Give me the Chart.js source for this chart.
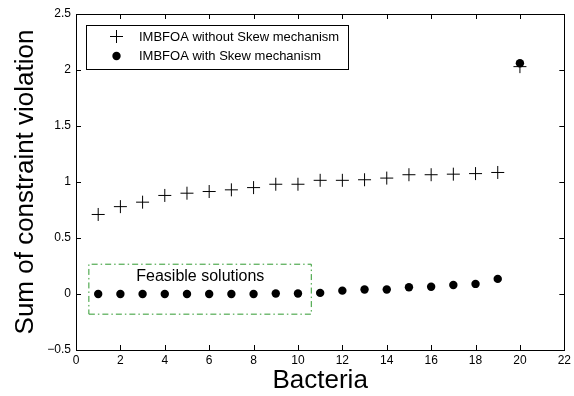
<!DOCTYPE html>
<html>
<head>
<meta charset="utf-8">
<script src="https://cdn.jsdelivr.net/npm/chart.js@4"></script>
<style>
  html, body { margin: 0; padding: 0; background: #fff; }
  #wrap { width: 574px; height: 396px; }
</style>
</head>
<body>
<div id="wrap"><canvas id="chart" width="574" height="396"></canvas></div>
<script>
// Bacteria index 1..20
const bacteria = [1, 2, 3, 4, 5, 6, 7, 8, 9, 10, 11, 12, 13, 14, 15, 16, 17, 18, 19, 20];
const withoutSkew = [0.71, 0.78, 0.82, 0.88, 0.90, 0.915, 0.93, 0.95, 0.98, 0.98,
    1.015, 1.015, 1.02, 1.035, 1.065, 1.065, 1.07, 1.075, 1.085, 2.03];
const withSkew = [0, 0, 0, 0, 0, 0, 0, 0, 0.005, 0.005,
    0.01, 0.03, 0.04, 0.04, 0.06, 0.065, 0.08, 0.09, 0.135, 2.06];

const xTicks = [0, 2, 4, 6, 8, 10, 12, 14, 16, 18, 20, 22];
const yTicks = [-0.5, 0, 0.5, 1, 1.5, 2, 2.5];

// "Feasible solutions" box corners (x, y)
const boxX = [0.58, 10.6, 10.6, 0.58, 0.58];
const boxY = [-0.18, -0.18, 0.266, 0.266, -0.18];
const boxLabel = 'Feasible solutions';

const seriesNames = ['IMBFOA without Skew mechanism', 'IMBFOA with Skew mechanism'];

const FONT = 'Liberation Sans, Arial, Helvetica, sans-serif';
const GREEN = '#2f9a2f';

// box frame, inside ticks, legend and box label
const framePlugin = {
    id: 'frame',
    afterDraw(chart) {
        const ctx = chart.ctx;
        const a = chart.chartArea;
        const xs = chart.scales.x, ys = chart.scales.y;
        ctx.save();
        ctx.strokeStyle = '#000';
        ctx.lineWidth = 1;
        ctx.strokeRect(Math.round(a.left) + 0.5, Math.round(a.top) + 0.5,
            Math.round(a.right - a.left), Math.round(a.bottom - a.top));
        const tl = 5;
        ctx.beginPath();
        xTicks.forEach(v => {
            const px = Math.round(xs.getPixelForValue(v)) + 0.5;
            ctx.moveTo(px, a.bottom); ctx.lineTo(px, a.bottom - tl);
            ctx.moveTo(px, a.top); ctx.lineTo(px, a.top + tl);
        });
        yTicks.forEach(v => {
            const py = Math.round(ys.getPixelForValue(v)) + 0.5;
            ctx.moveTo(a.left, py); ctx.lineTo(a.left + tl, py);
            ctx.moveTo(a.right, py); ctx.lineTo(a.right - tl, py);
        });
        ctx.stroke();

        // label of the feasible box
        ctx.fillStyle = '#000';
        ctx.font = '16px ' + FONT;
        ctx.textAlign = 'center';
        ctx.textBaseline = 'middle';
        ctx.fillText(boxLabel, xs.getPixelForValue(5.6), ys.getPixelForValue(0.155));

        // legend
        const lx = 86.5, ly = 25.5, lw = 262, lh = 44;
        ctx.fillStyle = '#fff';
        ctx.fillRect(lx, ly, lw, lh);
        ctx.strokeRect(lx, ly, lw, lh);
        ctx.fillStyle = '#000';
        ctx.font = '13px ' + FONT;
        ctx.textAlign = 'left';
        // plus marker
        ctx.beginPath();
        ctx.moveTo(110, 36.5); ctx.lineTo(123, 36.5);
        ctx.moveTo(116.5, 30); ctx.lineTo(116.5, 43);
        ctx.stroke();
        ctx.fillText(seriesNames[0], 139, 37);
        // dot marker
        ctx.beginPath();
        ctx.arc(116.5, 56, 4.2, 0, Math.PI * 2);
        ctx.fill();
        ctx.fillText(seriesNames[1], 139, 56);
        ctx.restore();
    }
};

new Chart(document.getElementById('chart'), {
    type: 'scatter',
    data: {
        datasets: [
            {
                label: 'box',
                data: boxX.map((x, i) => ({ x: x, y: boxY[i] })),
                showLine: true,
                borderColor: GREEN,
                borderWidth: 1,
                borderDash: [6, 3, 1.5, 3],
                pointRadius: 0,
                fill: false
            },
            {
                label: seriesNames[0],
                data: bacteria.map((b, i) => ({ x: b, y: withoutSkew[i] })),
                pointStyle: 'cross',
                pointRadius: 6.5,
                borderColor: '#000',
                borderWidth: 1,
                backgroundColor: '#000'
            },
            {
                label: seriesNames[1],
                data: bacteria.map((b, i) => ({ x: b, y: withSkew[i] })),
                pointStyle: 'circle',
                pointRadius: 4.2,
                borderWidth: 0,
                borderColor: '#000',
                backgroundColor: '#000'
            }
        ]
    },
    options: {
        responsive: false,
        animation: false,
        layout: { padding: { top: 14, right: 4, left: 0, bottom: 0 } },
        plugins: {
            legend: { display: false },
            tooltip: { enabled: false }
        },
        scales: {
            x: {
                type: 'linear',
                min: 0,
                max: 22,
                afterBuildTicks(scale) { scale.ticks = xTicks.map(v => ({ value: v })); },
                afterFit(scale) { scale.height = 46; },
                grid: { display: false, drawTicks: false },
                border: { display: false },
                ticks: { color: '#000', font: { family: FONT, size: 12 }, padding: 3, maxRotation: 0 },
                title: { display: true, text: 'Bacteria', color: '#000', font: { family: FONT, size: 26 }, padding: { top: 0, bottom: 0 } }
            },
            y: {
                type: 'linear',
                min: -0.5,
                max: 2.5,
                afterBuildTicks(scale) { scale.ticks = yTicks.map(v => ({ value: v })); },
                afterFit(scale) { scale.width = 76; },
                grid: { display: false, drawTicks: false },
                border: { display: false },
                ticks: {
                    color: '#000',
                    font: { family: FONT, size: 12 },
                    padding: 5,
                    callback: v => (v < 0 ? '\u2212' + Math.abs(v) : String(v))
                },
                title: { display: true, text: 'Sum of constraint violation', color: '#000', font: { family: FONT, size: 26 }, padding: { top: 10, bottom: 0 } }
            }
        }
    },
    plugins: [framePlugin]
});
</script>
</body>
</html>
